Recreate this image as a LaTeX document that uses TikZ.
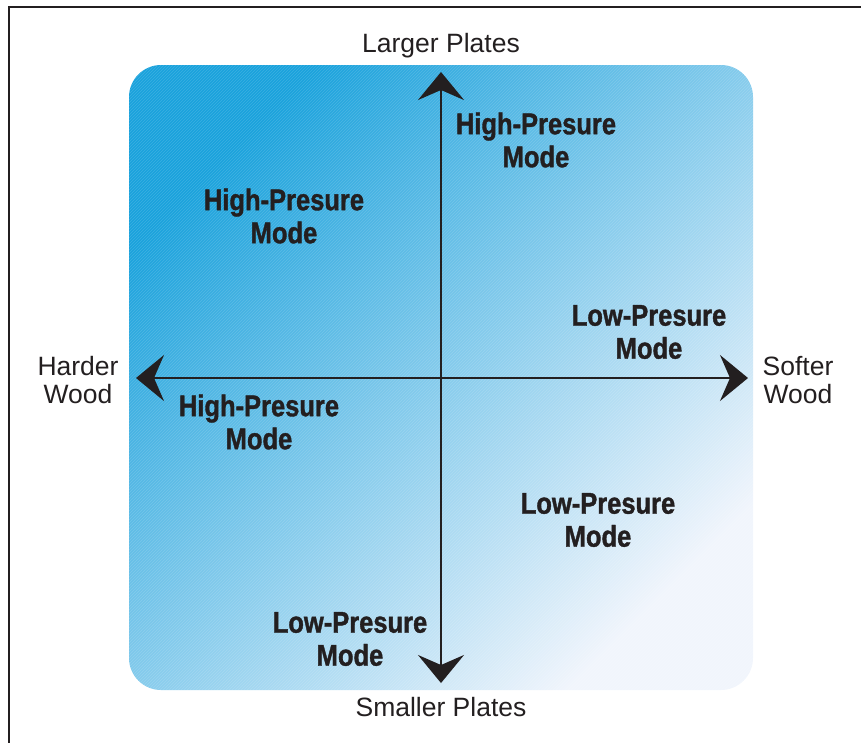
\documentclass[tikz,border=0pt]{standalone}
\usepackage{fontspec}
\setmainfont{Liberation Sans}
\newfontfamily\modefont[FakeStretch=0.85,FakeBold=1.2]{Liberation Sans}
\usetikzlibrary{arrows.meta,patterns}
\definecolor{ink}{HTML}{231F20}
\definecolor{deepblue}{HTML}{1AA2DC}
\definecolor{midblue}{HTML}{A6D1F1}
\definecolor{paleblue}{HTML}{F1F5FC}

\begin{document}
\begin{tikzpicture}[x=1pt,y=-1pt,
  axislabel/.style={font=\fontsize{26.5}{28}\selectfont, text=ink, align=center, inner sep=0pt},
  modelabel/.style={font=\modefont\bfseries\fontsize{30}{33}\selectfont, text=ink, align=center, inner sep=0pt},
  axisline/.style={line width=2.5pt, draw=ink,
    {Stealth[length=28pt,width=46pt,inset=10pt]}-{Stealth[length=28pt,width=46pt,inset=10pt]}}]
\useasboundingbox (0,0) rectangle (861,742);
\begin{scope}
  \clip (0,0) rectangle (861,742);
  \draw[line width=2pt, draw=ink] (9,7) rectangle (880,760);
\end{scope}
% the shaded panel
\shade[rounded corners=32pt, top color=deepblue, middle color=midblue, bottom color=paleblue, shading angle=45]
  (129,65) rectangle (753,690);
\fill[rounded corners=32pt, pattern=north east lines, pattern color=white, opacity=0.15]
  (129,65) rectangle (753,690);
% axes
\coordinate (top) at (441,72);
\coordinate (bottom) at (441,683);
\coordinate (west) at (136,378);
\coordinate (east) at (748,378);
\draw[axisline] (west) -- (east);
\draw[axisline] (bottom) -- (top);
\node[axislabel] (larger) at (441,46) {Larger Plates};
\node[axislabel] (smaller) at (441,707) {Smaller Plates};
\node[axislabel] (harder) at (78,380) {Harder\\Wood};
\node[axislabel] (softer) at (798,380) {Softer\\Wood};
% mode labels
\node[modelabel] (highA) at (536,140) {High-Presure\\Mode};
\node[modelabel] (highB) at (284,216) {High-Presure\\Mode};
\node[modelabel] (lowA) at (649,332) {Low-Presure\\Mode};
\node[modelabel] (highC) at (259,422) {High-Presure\\Mode};
\node[modelabel] (lowB) at (598,520) {Low-Presure\\Mode};
\node[modelabel] (lowC) at (350,639) {Low-Presure\\Mode};
\end{tikzpicture}
\end{document}
